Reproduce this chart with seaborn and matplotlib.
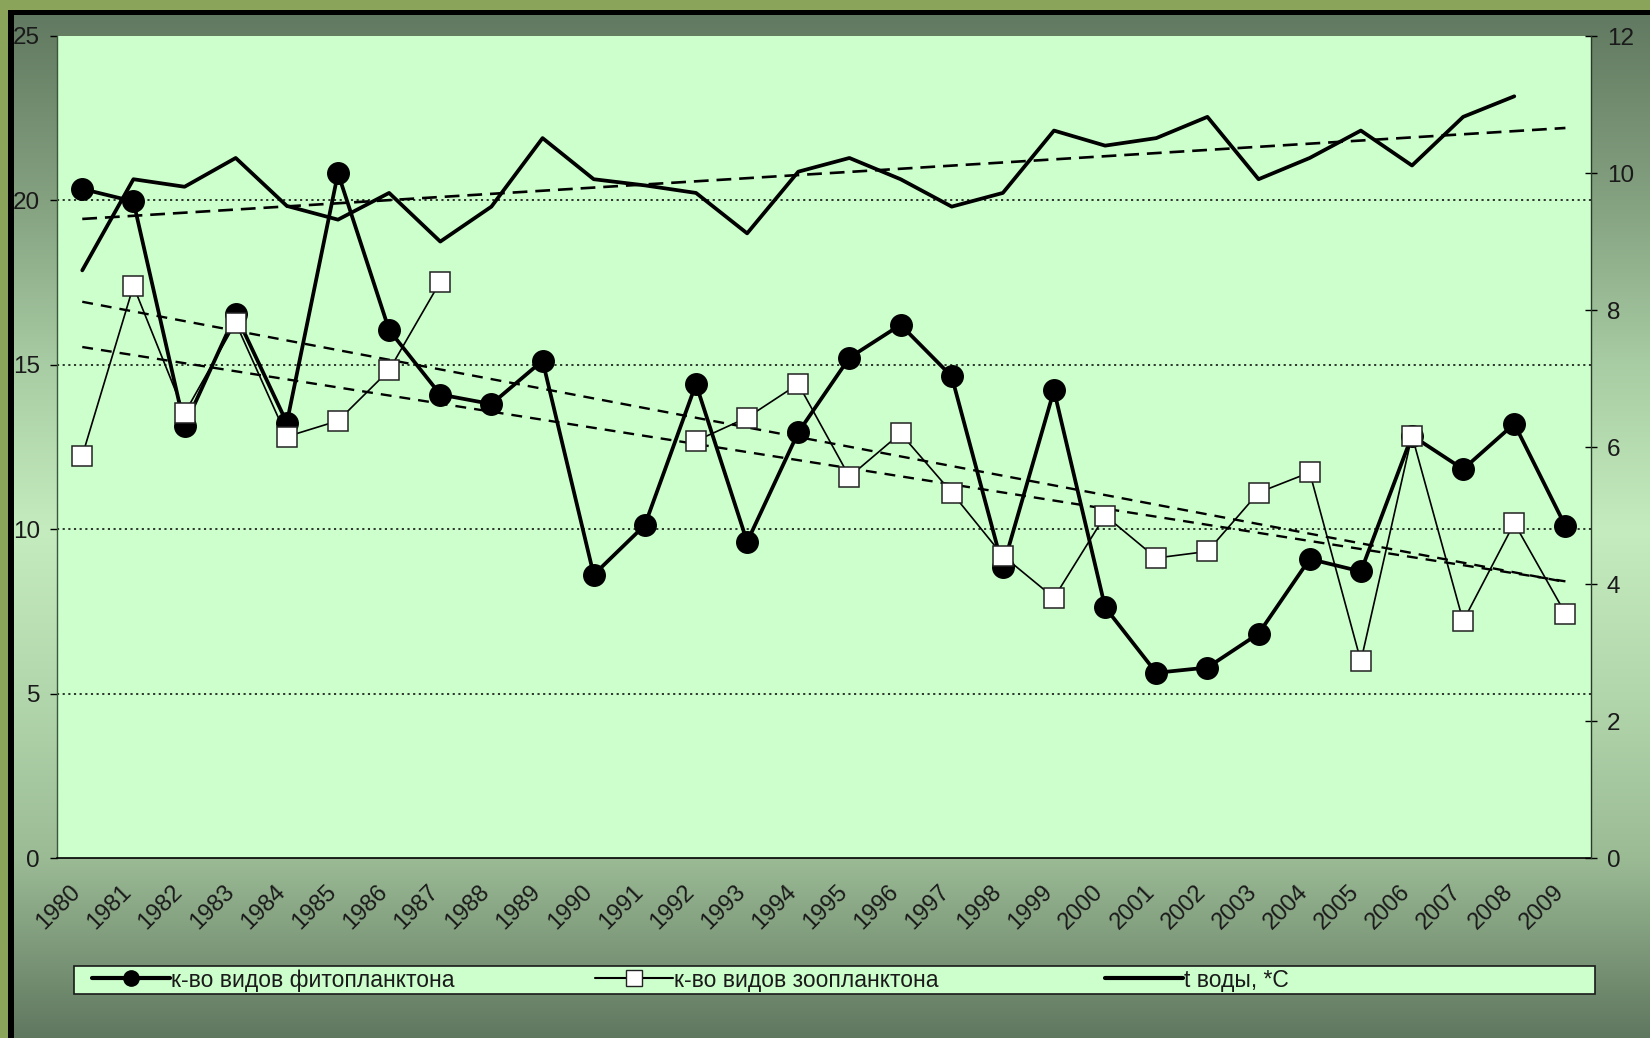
import numpy as np
import pandas as pd
import matplotlib
matplotlib.use("Agg")
import matplotlib.pyplot as plt
import seaborn as sns
from matplotlib.lines import Line2D
from matplotlib.patches import Rectangle
from matplotlib.colors import to_rgb
from matplotlib.transforms import ScaledTranslation

# ---------------- data ----------------
years = list(range(1980, 2010))
phyto = [20.35, 19.97, 13.14, 16.54, 13.24, 20.83, 16.06, 14.10, 13.81, 15.13,
         8.62, 10.13, 14.42, 9.62, 12.95, 15.22, 16.22, 14.65, 8.85, 14.23,
         7.63, 5.64, 5.80, 6.83, 9.10, 8.72, 12.85, 11.83, 13.21, 10.10]
zoo = [12.24, 17.40, 13.53, 16.28, 12.82, 13.30, 14.84, 17.53, np.nan, np.nan,
       np.nan, np.nan, 12.69, 13.40, 14.42, 11.60, 12.92, 11.12, 9.20, 7.92,
       10.42, 9.13, 9.33, 11.12, 11.73, 5.99, 12.85, 7.21, 10.19, 7.44]
temp = [8.58, 9.91, 9.80, 10.22, 9.52, 9.32, 9.71, 9.00, 9.51, 10.51,
        9.91, 9.82, 9.71, 9.12, 10.02, 10.22, 9.91, 9.51, 9.71, 10.62,
        10.40, 10.51, 10.82, 9.91, 10.22, 10.62, 10.11, 10.82, 11.12, np.nan]
left_ticks = [0, 5, 10, 15, 20, 25]
right_ticks = [0, 2, 4, 6, 8, 10, 12]
grid_levels = [5, 10, 15, 20]
legend_labels = ["к-во видов фитопланктона", "к-во видов зоопланктона", "t воды, *С"]

# ---------------- style ----------------
sns.set_theme(style="white")
plt.rcParams["font.family"] = ["Liberation Sans", "DejaVu Sans"]
W, H = 1650, 1038
fig = plt.figure(figsize=(W / 100, H / 100), dpi=100)

# background gradient + frame
bg = fig.add_axes([0, 0, 1, 1])
bg.set_zorder(-5)
bg.axis("off")
stops = np.array([0, 200, 364, 530, 700, 858, 1038]) / H
cols = np.array([to_rgb(c) for c in ["#5e765e", "#84a180", "#a8cca3", "#c4ecbe",
                                       "#b2d6ac", "#9bbb95", "#5f775f"]])
yy = np.linspace(0, 1, H)
grad = np.stack([np.interp(yy, stops, cols[:, i]) for i in range(3)], axis=-1)[:, None, :]
bg.imshow(grad, aspect="auto", extent=[0, 1, 0, 1], origin="upper")
bg.set_xlim(0, 1)
bg.set_ylim(0, 1)
olive = "#8aa55a"
bg.add_patch(Rectangle((0, 1 - 10 / H), 1, 10 / H, color=olive, transform=bg.transAxes, lw=0))
bg.add_patch(Rectangle((0, 0), 8 / W, 1, color=olive, transform=bg.transAxes, lw=0))
bg.add_patch(Rectangle((8 / W, 1 - 15 / H), 1, 5 / H, color="black", transform=bg.transAxes, lw=0))
bg.add_patch(Rectangle((8 / W, 0), 6 / W, 1 - 10 / H, color="black", transform=bg.transAxes, lw=0))
# legend frame
bg.add_patch(Rectangle((74 / W, 1 - 994 / H), (1595 - 74) / W, 28 / H,
                       facecolor="#ccffcc", edgecolor="#1a1a1a", lw=1.2,
                       transform=bg.transAxes, zorder=5))

# main axes
x0, x1, y0, y1 = 56.7, 1591, 36, 858.3
ax = fig.add_axes([x0 / W, 1 - y1 / H, (x1 - x0) / W, (y1 - y0) / H])
ax.set_facecolor("#ccffcc")

pos = np.arange(len(years))
df = pd.DataFrame({"pos": pos, "phyto": phyto, "zoo": zoo, "temp": temp})

for g in grid_levels:
    ax.axhline(g, color="black", lw=1.1, linestyle=(0, (1.4, 2.3)), zorder=1)

# trend lines (linear regression, as in the original chart)
def trend(vals):
    v = np.asarray(vals, float)
    m = ~np.isnan(v)
    k, b = np.polyfit(pos[m], v[m], 1)
    return k * pos + b

ax.plot(pos, trend(phyto), color="black", lw=1.7, dashes=(4.6, 3.4), zorder=2)
ax.plot(pos, trend(zoo), color="black", lw=1.7, dashes=(4.6, 3.4), zorder=2)

sns.lineplot(data=df, x="pos", y="phyto", ax=ax, color="black", lw=2.7,
             marker="o", markersize=15.5, markeredgecolor="black",
             markeredgewidth=1, zorder=3)
dz = df.assign(seg=df["zoo"].isna().cumsum()).dropna(subset=["zoo"])
sns.lineplot(data=dz, x="pos", y="zoo", units="seg", estimator=None, ax=ax,
             color="black", lw=1.2, marker="s", markersize=15,
             markerfacecolor="white", markeredgecolor="#222222",
             markeredgewidth=1.1, zorder=4)

ax.set_xlim(-0.5, len(years) - 0.5)
ax.set_ylim(0, 25)
ax.set_yticks(left_ticks)
ax.set_yticklabels([str(t) for t in left_ticks])
ax.set_xticks(np.arange(-0.5, len(years), 1))
ax.set_xticklabels([])
ax.set_xticks(pos, minor=True)
ax.set_xticklabels([str(y) for y in years], minor=True)
ax.set_xlabel("")
ax.set_ylabel("")
ax.tick_params(axis="x", which="major", direction="inout", length=11, width=1, color="black")
ax.tick_params(axis="x", which="minor", length=0, pad=22, labelsize=17, labelcolor="#1a1a1a")
shift = ScaledTranslation(-5 / 100, 0, fig.dpi_scale_trans)
for tick in ax.xaxis.get_minor_ticks():
    lab = tick.label1
    lab.set_rotation(45)
    lab.set_ha("right")
    lab.set_va("center")
    lab.set_rotation_mode("anchor")
    lab.set_transform(lab.get_transform() + shift)
ax.tick_params(axis="y", which="major", direction="out", length=5, width=1, color="black",
               pad=7, labelsize=17.5, labelcolor="#1a1a1a", left=True)
for s in ["top", "right"]:
    ax.spines[s].set_visible(False)
ax.spines["left"].set_color("#3d553d")
ax.spines["left"].set_linewidth(1)
ax.spines["bottom"].set_color("black")
ax.spines["bottom"].set_linewidth(1.2)

# right axis: temperature
ax2 = ax.twinx()
ax2.plot(pos, trend(temp), color="black", lw=1.9, dashes=(5.6, 3.0), zorder=2)
sns.lineplot(data=df, x="pos", y="temp", ax=ax2, color="black", lw=2.7, zorder=3)
ax2.set_ylim(0, 12)
ax2.set_yticks(right_ticks)
ax2.set_yticklabels([str(t) for t in right_ticks])
ax2.set_ylabel("")
ax2.tick_params(axis="y", direction="inout", length=9, width=1, color="black",
                pad=7, labelsize=17.5, labelcolor="#1a1a1a", right=True)
for s in ["top", "left", "bottom"]:
    ax2.spines[s].set_visible(False)
ax2.spines["right"].set_color("#2a3a2a")
ax2.spines["right"].set_linewidth(1)

# legend: three entries at fixed column starts inside one frame
handles = [
    Line2D([], [], color="black", lw=3, marker="o", markersize=11, markeredgecolor="black"),
    Line2D([], [], color="black", lw=1.5, marker="s", markersize=11,
           markerfacecolor="white", markeredgecolor="#222222"),
    Line2D([], [], color="black", lw=3),
]
col_starts = [92, 595, 1105]
for h, lbl, xs in zip(handles, legend_labels, col_starts):
    lg = fig.legend([h], [lbl], loc="center left",
                    bbox_to_anchor=(xs / W, 1 - 980 / H),
                    frameon=False, fontsize=16.5, handlelength=3.4,
                    handletextpad=0.05, borderpad=0, borderaxespad=0)
    for t in lg.get_texts():
        t.set_color("#1a1a1a")

fig.savefig("out.png", dpi=100)
